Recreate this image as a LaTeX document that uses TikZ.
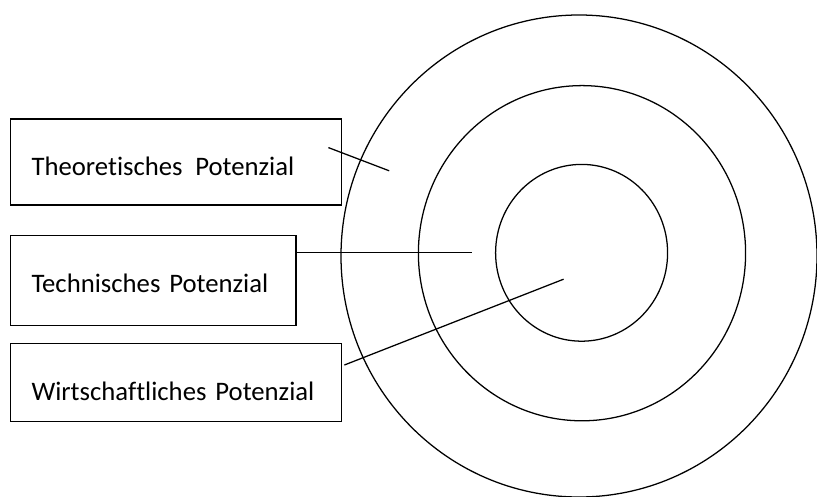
\documentclass[tikz,border=0pt]{standalone}
\usepackage{fontspec}
\setmainfont[Ligatures={NoCommon}]{Carlito}
\usepackage{tikz}
\usetikzlibrary{positioning, calc}

\tikzset{
    potbox/.style={draw, line width=0.9pt, anchor=north west, align=left,
        inner xsep=0.53cm, inner ysep=0pt, text depth=0pt,
        font=\fontsize{19}{23}\selectfont},
    ring/.style={line width=0.9pt},
    lead/.style={line width=0.9pt}
}

\begin{document}
\begin{tikzpicture}
    \useasboundingbox (0,0) rectangle (20.425,12.4);

    % Rings
    \draw[ring] (14.475,6.0) ellipse (5.95 and 6.025);
    \draw[ring] (14.55,6.07) ellipse (4.09 and 4.19);
    \draw[ring] (14.54,6.08) ellipse (2.15 and 2.21);

    % Boxes
    \node[potbox, text width=7.22cm, minimum height=2.15cm, text height=0.68cm] (theo) at (0.2425,9.44) {Theoretisches\hspace{9pt}Potenzial};
    \node[potbox, text width=6.08cm, minimum height=2.26cm, text height=0.59cm] (tech) at (0.2425,6.53) {Technisches Potenzial};
    \node[potbox, text width=7.22cm, minimum height=1.94cm, text height=0.905cm] (wirt) at (0.2425,3.825) {Wirtschaftliches Potenzial};

    % Lead lines
    \coordinate (theostart) at (8.21,8.71);
    \coordinate (theoend) at (9.73,8.13);
    \coordinate (techend) at (11.81,6.08);
    \coordinate (wirtstart) at (8.61,3.275);
    \coordinate (wirtend) at (14.09,5.42);
    \draw[lead] (theostart) -- (theoend);
    \draw[lead] (tech.east |- techend) -- (techend);
    \draw[lead] (wirtstart) -- (wirtend);
\end{tikzpicture}
\end{document}
